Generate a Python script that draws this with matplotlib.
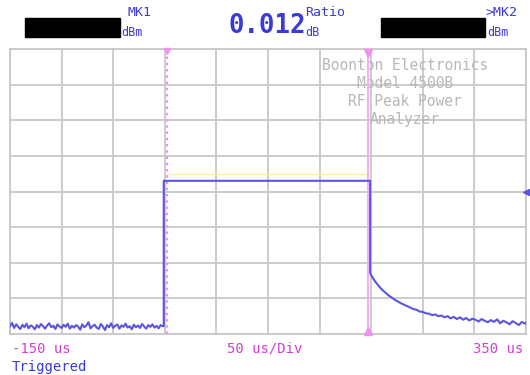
import matplotlib.pyplot as plt
from matplotlib.patches import Rectangle

# time axis in us, level in screen divisions (0..8 from bottom)
pre_t = [-150, -148, -146, -144, -142, -140, -138, -136, -134, -132, -130, -128,
         -126, -124, -122, -120, -118, -116, -114, -112, -110, -108, -106, -104,
         -102, -100, -98, -96, -94, -92, -90, -88, -86, -84, -82, -80, -78, -76,
         -74, -72, -70, -68, -66, -64, -62, -60, -58, -56, -54, -52, -50, -48,
         -46, -44, -42, -40, -38, -36, -34, -32, -30, -28, -26, -24, -22, -20,
         -18, -16, -14, -12, -10, -8, -6, -4, -2]
pre_v = [0.22, 0.31, 0.17, 0.27, 0.20, 0.14, 0.26, 0.19, 0.29, 0.16, 0.24, 0.21,
         0.13, 0.25, 0.18, 0.28, 0.22, 0.15, 0.24, 0.30, 0.19, 0.23, 0.14, 0.27,
         0.21, 0.17, 0.26, 0.20, 0.29, 0.15, 0.23, 0.18, 0.25, 0.21, 0.12, 0.27,
         0.19, 0.24, 0.33, 0.16, 0.22, 0.26, 0.18, 0.14, 0.28, 0.21, 0.11, 0.25,
         0.19, 0.30, 0.17, 0.23, 0.27, 0.15, 0.24, 0.20, 0.29, 0.18, 0.22, 0.13,
         0.26, 0.19, 0.24, 0.17, 0.28, 0.21, 0.15, 0.25, 0.20, 0.27, 0.18, 0.23,
         0.16, 0.25, 0.22]
pulse_t = [-1, -1, 199, 199]
pulse_v = [0.22, 4.3, 4.3, 1.71]
tail_t = [199, 201, 203, 205, 207, 209, 211, 213, 215, 217, 220, 223, 226, 229,
          232, 235, 238, 241, 244, 247, 250, 253, 256, 259, 262, 265, 268, 271,
          274, 277, 280, 283, 286, 289, 292, 295, 298, 301, 304, 307, 310, 313,
          316, 319, 322, 325, 328, 331, 334, 337, 340, 343, 346, 349, 350]
tail_v = [1.71, 1.60, 1.51, 1.43, 1.36, 1.29, 1.23, 1.18, 1.13, 1.08, 1.02, 0.96,
          0.91, 0.86, 0.82, 0.78, 0.74, 0.70, 0.68, 0.63, 0.62, 0.58, 0.57, 0.53,
          0.55, 0.50, 0.52, 0.47, 0.50, 0.44, 0.48, 0.42, 0.47, 0.40, 0.45, 0.38,
          0.43, 0.40, 0.35, 0.42, 0.37, 0.33, 0.39, 0.34, 0.41, 0.30, 0.37, 0.33,
          0.27, 0.36, 0.31, 0.25, 0.34, 0.29, 0.32]

mk1_t = 2
mk2_t = 197
ref_level = 4.0

trace_col = '#5a55e0'
text_blue = '#3a3ad8'
magenta = '#d040d0'

fig = plt.figure(figsize=(5.3, 3.75), dpi=100)
ax = fig.add_axes([10 / 530, 41 / 375, 516 / 530, 285 / 375])
ax.set_xlim(-150, 350)
ax.set_ylim(0, 8)
ax.set_xticks(range(-150, 351, 50))
ax.set_yticks(range(0, 9))
ax.tick_params(length=0, labelbottom=False, labelleft=False)
ax.grid(True, color='#c8c8c8', linewidth=1.3)
for s in ax.spines.values():
    s.set_color('#c8c8c8')
    s.set_linewidth(1.3)

# Markers
ax.axvline(mk1_t, color='#f090f0', linestyle=(0, (1.2, 1.8)), linewidth=1.5, zorder=3)
ax.axvline(mk2_t, color='#f4b0f4', linewidth=1.5, zorder=3)
ax.plot([mk1_t], [7.93], marker='v', color='#f090f0', markersize=5, clip_on=False, zorder=4)
ax.plot([mk2_t], [7.9], marker='v', color='#f090f0', markersize=6, clip_on=False, zorder=4)
ax.plot([mk2_t], [0.08], marker='^', color='#f090f0', markersize=6, clip_on=False, zorder=4)
ax.plot([350], [ref_level], marker='<', color=trace_col, markersize=5, clip_on=False, zorder=4)

# Faint line above the pulse top
ax.plot([mk1_t, mk2_t + 2], [4.5, 4.5], color='#f6f0a0', linewidth=1, zorder=2)

# Trace
ax.plot(pre_t + pulse_t + tail_t, pre_v + pulse_v + tail_v, color=trace_col,
        linewidth=1.5, zorder=5)

# Watermark
ax.text(0.765, 0.97, "Boonton Electronics\nModel 4500B\nRF Peak Power\nAnalyzer",
        transform=ax.transAxes, ha='center', va='top', family='DejaVu Sans Mono',
        fontsize=10.5, color='#b8b8b8', linespacing=1.25, zorder=2)

# Header readouts
mono = 'DejaVu Sans Mono'
fig.text(128 / 530, 1 - 12 / 375, "MK1", color=text_blue, family=mono, fontsize=9.5, va='center')
fig.text(121 / 530, 1 - 32 / 375, "dBm", color=text_blue, family=mono, fontsize=8.5, va='center')
fig.text(228 / 530, 1 - 26 / 375, "0.012", color=text_blue, family=mono, fontsize=18.5,
         va='center', fontweight='bold')
fig.text(305 / 530, 1 - 12 / 375, "Ratio", color=text_blue, family=mono, fontsize=9.5, va='center')
fig.text(305 / 530, 1 - 32 / 375, "dB", color=text_blue, family=mono, fontsize=8.5, va='center')
fig.text(485 / 530, 1 - 12 / 375, ">MK2", color=text_blue, family=mono, fontsize=9.5, va='center')
fig.text(487 / 530, 1 - 32 / 375, "dBm", color=text_blue, family=mono, fontsize=8.5, va='center')
fig.patches.append(Rectangle((25 / 530, 1 - 37 / 375), 95 / 530, 19 / 375,
                             transform=fig.transFigure, color='black'))
fig.patches.append(Rectangle((381 / 530, 1 - 37 / 375), 104 / 530, 19 / 375,
                             transform=fig.transFigure, color='black'))

# Footer
fig.text(12 / 530, 1 - 349 / 375, "-150 us", color=magenta, family=mono, fontsize=10, va='center')
fig.text(265 / 530, 1 - 349 / 375, "50 us/Div", color=magenta, family=mono, fontsize=10,
         va='center', ha='center')
fig.text(523 / 530, 1 - 349 / 375, "350 us", color=magenta, family=mono, fontsize=10,
         va='center', ha='right')
fig.text(12 / 530, 1 - 367 / 375, "Triggered", color=text_blue, family=mono, fontsize=10, va='center')

fig.savefig('out.png', dpi=100)
